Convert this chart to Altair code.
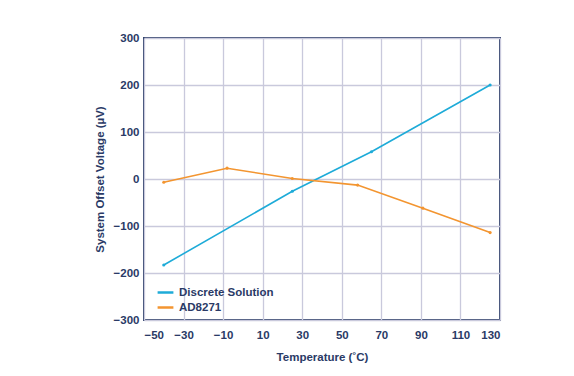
import altair as alt
import pandas as pd

discrete_t = [-40, 25, 65, 125]
discrete_v = [-183, -26, 58, 200]
ad_t = [-40, -8, 25, 58, 91, 125]
ad_v = [-7, 23, 1, -13, -62, -114]
series_names = ["Discrete Solution", "AD8271"]
colors = ["#1eabd8", "#f39530"]
x_ticks = list(range(-50, 131, 20))
y_ticks = list(range(-300, 301, 100))

df = pd.concat([
    pd.DataFrame({"t": discrete_t, "v": discrete_v, "s": series_names[0]}),
    pd.DataFrame({"t": ad_t, "v": ad_v, "s": series_names[1]}),
])

txt = "#2a3a66"
chart = alt.Chart(df).mark_line(
    strokeWidth=1.6,
    point=alt.OverlayMarkDef(size=10, filled=True),
).encode(
    x=alt.X("t:Q", scale=alt.Scale(domain=[-50, 130], nice=False),
            axis=alt.Axis(values=x_ticks, title="Temperature (˚C)",
                          labelExpr="replace(datum.label, '-', '–')")),
    y=alt.Y("v:Q", scale=alt.Scale(domain=[-300, 300], nice=False),
            axis=alt.Axis(values=y_ticks, title="System Offset Voltage (µV)",
                          labelExpr="replace(datum.label, '-', '–')")),
    color=alt.Color("s:N", scale=alt.Scale(domain=series_names, range=colors),
                    legend=alt.Legend(title=None, orient="none", legendX=12, legendY=245,
                                      symbolType="stroke", symbolStrokeWidth=2.5,
                                      symbolSize=250, labelFont="Liberation Sans",
                                      labelFontWeight="bold", labelFontSize=11.5,
                                      labelColor=txt, rowPadding=0, symbolOffset=0)),
).properties(
    width=356, height=282,
    autosize=alt.AutoSizeParams(type="none"),
    padding={"left": 136, "top": 30, "right": 20, "bottom": 50},
).configure_view(
    stroke="#34456e", strokeWidth=2,
).configure_axis(
    labelFont="Liberation Sans", labelFontWeight="bold", labelFontSize=11.5,
    labelColor=txt, titleFont="Liberation Sans", titleFontWeight="bold",
    titleFontSize=11.5, titleColor=txt, grid=True, gridColor="#c9c9dc",
    gridWidth=1.3, domain=False, ticks=False, labelPadding=5,
).configure_axisX(titlePadding=11, labelPadding=9).configure_axisY(titlePadding=8)

chart.save("out.html", embed_options={"renderer": "svg", "actions": False})
